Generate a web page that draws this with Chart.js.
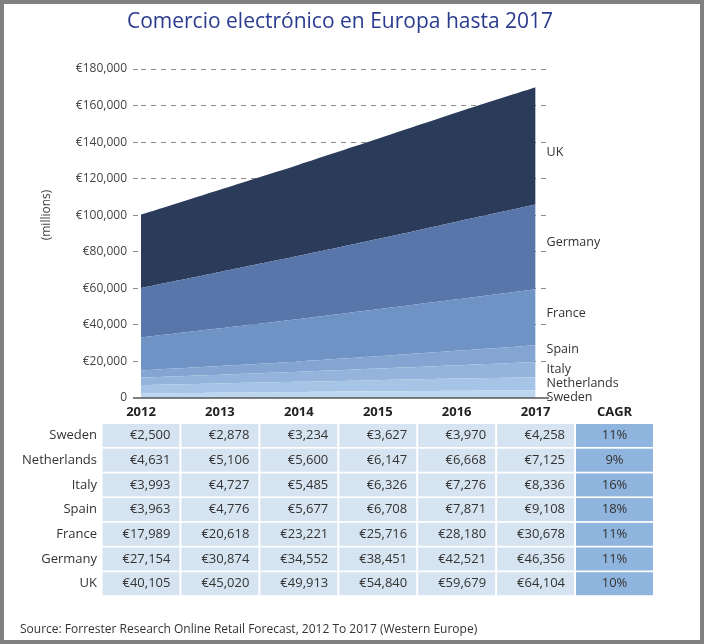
<!DOCTYPE html>
<html>
<head>
<meta charset="utf-8">
<script src="https://cdn.jsdelivr.net/npm/chart.js@4.4.0/dist/chart.umd.min.js"></script>
<style>
  html, body { margin: 0; padding: 0; background: #fff; }
  #wrap { width: 704px; height: 644px; position: relative; }
</style>
</head>
<body>
<div id="wrap"><canvas id="ecom" width="704" height="644"></canvas></div>
<script>
// data (millions of euro), bottom of the stack first
var years = [2012, 2013, 2014, 2015, 2016, 2017];
var countries = ['Sweden', 'Netherlands', 'Italy', 'Spain', 'France', 'Germany', 'UK'];
var sweden = [2500, 2878, 3234, 3627, 3970, 4258];
var netherlands = [4631, 5106, 5600, 6147, 6668, 7125];
var italy = [3993, 4727, 5485, 6326, 7276, 8336];
var spain = [3963, 4776, 5677, 6708, 7871, 9108];
var france = [17989, 20618, 23221, 25716, 28180, 30678];
var germany = [27154, 30874, 34552, 38451, 42521, 46356];
var uk = [40105, 45020, 49913, 54840, 59679, 64104];
var cagr = ['11%', '9%', '16%', '18%', '11%', '11%', '10%'];
var yTicks = [0, 20000, 40000, 60000, 80000, 100000, 120000, 140000, 160000, 180000];

var series = [sweden, netherlands, italy, spain, france, germany, uk];
var colors = ['#bcd6ef', '#a6c4e6', '#94b4dc', '#84a5d2', '#6f93c4', '#5876aa', '#2b3b5a'];
var labelNudge = [3, 0, 0, -4, -4, -4, 7];
var FONT = '"Open Sans", sans-serif';

function euro(v) {
    return '\u20ac' + v.toLocaleString('en-US');
}

var datasets = series.map(function(vals, i) {
    return {
        label: countries[i],
        data: vals.map(function(v, j) { return { x: years[j], y: v }; }),
        backgroundColor: colors[i],
        borderWidth: 0,
        pointRadius: 0,
        tension: 0.25,
        fill: i === 0 ? 'origin' : '-1'
    };
});

var extras = {
    id: 'extras',
    afterDatasetsDraw: function(chart) {
        var ctx = chart.ctx;
        var y0 = chart.scales.y.getPixelForValue(0);
        ctx.save();
        ctx.strokeStyle = '#555';
        ctx.lineWidth = 1.5;
        ctx.beginPath();
        ctx.moveTo(chart.chartArea.left - 8, y0);
        ctx.lineTo(chart.chartArea.right, y0);
        ctx.stroke();
        ctx.restore();
    },
    afterDraw: function(chart) {
        var ctx = chart.ctx;
        var xs = chart.scales.x;
        var ys = chart.scales.y;
        var n = years.length;
        ctx.save();

        // title
        ctx.fillStyle = '#2a3b8f';
        ctx.font = '21px ' + FONT;
        ctx.textAlign = 'center';
        ctx.textBaseline = 'middle';
        ctx.fillText('Comercio electr\u00f3nico en Europa hasta 2017', 340, 22);

        // y title
        ctx.save();
        ctx.translate(47, 215);
        ctx.rotate(-Math.PI / 2);
        ctx.fillStyle = '#444';
        ctx.font = '12px ' + FONT;
        ctx.fillText('(millions)', 0, 0);
        ctx.restore();

        // series labels at the right edge
        ctx.font = '12.5px ' + FONT;
        ctx.fillStyle = '#333';
        ctx.textAlign = 'left';
        var prev = ys.getPixelForValue(0);
        for (var i = 0; i < countries.length; i++) {
            var p = chart.getDatasetMeta(i).data[n - 1];
            var mid = (p.y + prev) / 2;
            ctx.fillText(countries[i], p.x + 11, mid + labelNudge[i]);
            prev = p.y;
        }

        // table
        var cols = years.concat([years[n - 1] + 1]);
        ctx.font = 'bold 13px ' + FONT;
        ctx.fillStyle = '#222';
        ctx.textAlign = 'center';
        cols.forEach(function(yr, c) {
            ctx.fillText(c < n ? String(yr) : 'CAGR', xs.getPixelForValue(yr), 412);
        });

        var half = (xs.getPixelForValue(2013) - xs.getPixelForValue(2012)) / 2 - 1;
        for (var r = 0; r < countries.length; r++) {
            var top = 424 + r * 24.7;
            var cy = top + 11.5;
            ctx.font = '13px ' + FONT;
            ctx.fillStyle = '#333';
            ctx.textAlign = 'right';
            ctx.fillText(countries[r], 97, cy);
            cols.forEach(function(yr, c) {
                var cx = xs.getPixelForValue(yr);
                ctx.fillStyle = c < n ? '#d6e4f1' : '#8fb4dd';
                ctx.fillRect(cx - half, top, half * 2, 23);
                ctx.fillStyle = '#333';
                if (c < n) {
                    ctx.textAlign = 'right';
                    ctx.fillText(euro(series[r][c]), cx + half - 9, cy);
                } else {
                    ctx.textAlign = 'center';
                    ctx.fillText(cagr[r], cx, cy);
                }
            });
        }

        // source
        ctx.font = '12px ' + FONT;
        ctx.fillStyle = '#333';
        ctx.textAlign = 'left';
        ctx.fillText('Source: Forrester Research Online Retail Forecast, 2012 To 2017 (Western Europe)', 20, 630);

        // frame
        ctx.strokeStyle = '#808080';
        ctx.lineWidth = 4;
        ctx.strokeRect(2, 2, 700, 640);
        ctx.restore();
    }
};

var chart = new Chart(document.getElementById('ecom'), {
    type: 'line',
    data: { datasets: datasets },
    options: {
        responsive: false,
        animation: false,
        layout: { padding: { top: 69, right: 155, bottom: 246, left: 0 } },
        plugins: {
            legend: { display: false },
            tooltip: { enabled: false },
            filler: { propagate: false }
        },
        scales: {
            x: {
                type: 'linear',
                display: false,
                min: 2012,
                max: 2017.17
            },
            y: {
                stacked: true,
                min: 0,
                max: 180000,
                afterFit: function(scale) { scale.width = 141; },
                afterBuildTicks: function(scale) {
                    scale.ticks = yTicks.map(function(v) { return { value: v }; });
                },
                ticks: {
                    padding: 6,
                    color: '#444',
                    font: { family: FONT, size: 12 },
                    callback: function(v) { return v === 0 ? '0' : euro(v); }
                },
                grid: {
                    color: function(c) { return c.tick && c.tick.value === 0 ? 'rgba(0,0,0,0)' : '#8a8a8a'; },
                    lineWidth: 1,
                    tickLength: 8,
                    tickBorderDash: [5, 4]
                },
                border: { display: false, dash: [5, 5] }
            }
        }
    },
    plugins: [extras]
});
</script>
</body>
</html>
